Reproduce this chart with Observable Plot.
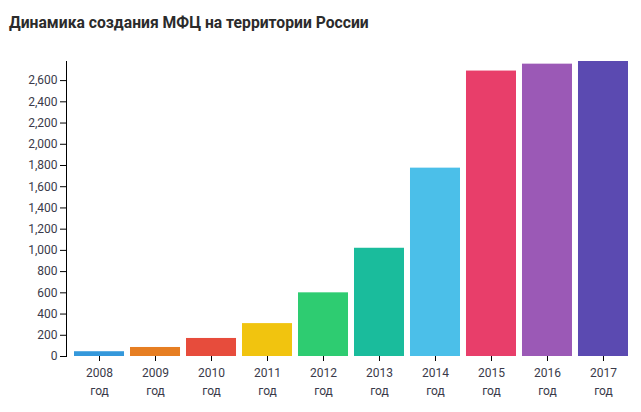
<!DOCTYPE html>
<html><head><meta charset="utf-8">
<script src="https://cdn.jsdelivr.net/npm/d3@7"></script>
<script src="https://cdn.jsdelivr.net/npm/@observablehq/plot@0.6"></script>
<style>
body{margin:0;background:#fff;font-family:Roboto,"Noto Sans",sans-serif;}
#title{height:40px;line-height:46px;padding-left:9px;font-size:15.7px;font-weight:700;color:#2b2b2b;white-space:nowrap;}
</style></head>
<body>
<div id="title">Динамика создания МФЦ на территории России</div>
<div id="chart"></div>
<script>
const years = ["2008","2009","2010","2011","2012","2013","2014","2015","2016","2017"];
const counts = [45, 85, 170, 310, 600, 1020, 1775, 2690, 2755, 2780];
const colors = ["#3498db","#e67e22","#e74c3c","#f1c40f","#2ecc71","#1abc9c","#4bbfe9","#e83e6a","#9b59b6","#5b4ab1"];
const yTicks = d3.range(0, 2601, 200);
const yearSuffix = "год";

const data = years.map((y, i) => ({year: y, count: counts[i], color: colors[i]}));

const chart = Plot.plot({
  width: 641,
  height: 372,
  marginTop: 21,
  marginBottom: 56,
  marginLeft: 66,
  marginRight: 5,
  style: {fontFamily: "Roboto, 'Noto Sans', sans-serif", fontSize: "12px", color: "#3a3a4a"},
  x: {domain: years, paddingInner: 0.107, paddingOuter: 0.143, round: false, label: null},
  y: {domain: [0, 2780], label: null},
  marks: [
    Plot.barY(data, {x: "year", y: "count", fill: "color"}),
    Plot.frame({anchor: "left", stroke: "#000"}),
    Plot.axisY({ticks: yTicks, tickFormat: d3.format(","), tickSize: 6, tickPadding: 3, label: null, fontSize: 12, stroke: "#000"}),
    Plot.axisX({tickFormat: d => `${d}\n${yearSuffix}`, tickSize: 5, tickPadding: 2, lineHeight: 1.55, label: null, fontSize: 12, stroke: "#000"})
  ]
});
document.getElementById("chart").appendChild(chart);
</script>
</body></html>
